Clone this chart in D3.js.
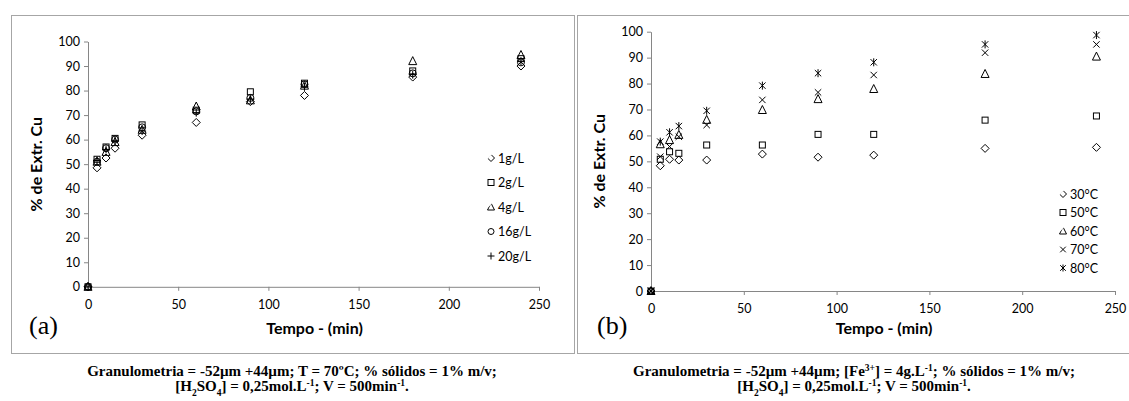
<!DOCTYPE html>
<html>
<head>
<meta charset="utf-8">
<script src="https://cdn.jsdelivr.net/npm/d3@7"></script>
<style>
  body { margin: 0; background: #fff; }
  svg { display: block; }
  .tick text { font-family: Lato, "Open Sans", sans-serif; font-size: 12.5px; fill: #000; }
</style>
</head>
<body>
<svg id="chart" width="1129" height="401"></svg>
<script>
const times = [0, 5, 10, 15, 30, 60, 90, 120, 180, 240];
const xTicks = [0, 50, 100, 150, 200, 250];
const yTicks = [0, 10, 20, 30, 40, 50, 60, 70, 80, 90, 100];

// (a) concentration series
const seriesA = ["1g/L", "2g/L", "4g/L", "16g/L", "20g/L"];
const valuesA1 = [0, 48.5, 52.5, 56.5, 61.8, 67, 75.5, 78, 85.5, 90];
const valuesA2 = [0, 52, 57, 60.5, 66, 72, 79.5, 83, 88, 93];
const valuesA4 = [0, 51, 55, 59, 64, 73.5, 76, 82, 92, 94.5];
const valuesA16 = [0, 51, 56.5, 60, 65, 71.5, 77, 82.5, 87, 91.5];
const valuesA20 = [0, 51.5, 56, 59.5, 63.5, 71, 76.5, 81.5, 86.5, 92];

// (b) temperature series
const seriesB = ["30°C", "50°C", "60°C", "70°C", "80°C"];
const valuesB30 = [0, 48.3, 50.8, 50.5, 50.5, 52.8, 51.6, 52.4, 55, 55.4];
const valuesB50 = [0, 50.8, 53.7, 53.1, 56.3, 56.3, 60.4, 60.4, 65.9, 67.5];
const valuesB60 = [0, 56.6, 58.2, 60.2, 66, 69.8, 74, 77.9, 83.7, 90.4];
const valuesB70 = [0, 51.8, 55.7, 59.5, 64, 73.7, 76.6, 83.3, 91.9, 95.1];
const valuesB80 = [0, 57.6, 61.2, 63.6, 69.5, 79.2, 84, 88.2, 95.1, 98.7];

const svg = d3.select("#chart");

// clip used by legend symbols: Excel cuts off the upper-left edge of some of them
svg.append("defs").append("clipPath").attr("id", "legend-clip")
  .attr("clipPathUnits", "userSpaceOnUse")
  .append("path").attr("d", "M-12.5,10L10,-12.5L10,10Z");

// marker drawing, Excel-like open symbols
function marker(g, type, x, y, s, clip) {
  const o = g.append("g").attr("transform", `translate(${x},${y})`);
  const inner = clip ? o.append("g").attr("clip-path", "url(#legend-clip)") : o;
  const st = sel => sel.attr("fill", "none").attr("stroke", "#000").attr("stroke-width", 1);
  if (type === "diamond") {
    st(inner.append("path").attr("d", `M0,${-s}L${s},0L0,${s}L${-s},0Z`));
  } else if (type === "square") {
    st(o.append("rect").attr("x", -s + 0.5).attr("y", -s + 0.5).attr("width", 2 * s - 1).attr("height", 2 * s - 1));
  } else if (type === "triangle") {
    st(inner.append("path").attr("d", `M0,${-s - 0.5}L${s},${s - 0.5}L${-s},${s - 0.5}Z`));
  } else if (type === "circle") {
    st(o.append("circle").attr("r", s - 0.5));
  } else if (type === "plus") {
    st(o.append("path").attr("d", `M${-s},0H${s}M0,${-s}V${s}`));
  } else if (type === "x") {
    const k = s * 0.8;
    st(o.append("path").attr("d", `M${-k},${-k}L${k},${k}M${-k},${k}L${k},${-k}`));
  } else if (type === "star") {
    const k = s * 0.8;
    st(o.append("path").attr("d", `M${-k},${-k}L${k},${k}M${-k},${k}L${k},${-k}M0,${-s}V${s}`));
  }
}

function panel(opts) {
  const { x0, x1, yTop, yBottom, data, names, types, legendX, legendY, legendStep, label, labelX } = opts;
  const x = d3.scaleLinear().domain([0, 250]).range([x0, x1]);
  const y = d3.scaleLinear().domain([0, 100]).range([yBottom, yTop]);

  const gx = svg.append("g").attr("transform", `translate(0,${yBottom})`)
    .call(d3.axisBottom(x).tickValues(xTicks).tickSize(4).tickSizeOuter(0));
  const gy = svg.append("g").attr("transform", `translate(${x0},0)`)
    .call(d3.axisLeft(y).tickValues(yTicks).tickSize(4).tickSizeOuter(0));
  [gx, gy].forEach(g => {
    g.select(".domain").attr("stroke", "#868686");
    g.selectAll(".tick line").attr("stroke", "#868686");
  });
  gx.selectAll(".tick text").attr("dy", "1.2em");
  gy.selectAll(".tick text").attr("x", -8);

  const pts = svg.append("g");
  data.forEach((vals, i) => {
    vals.forEach((v, j) => marker(pts, types[i], x(times[j]), y(v), types[i] === "square" ? 3.5 : 4));
  });

  // axis titles
  svg.append("text").attr("x", (x0 + x1) / 2 + 1).attr("y", 334)
    .attr("text-anchor", "middle").attr("font-family", "Lato, sans-serif")
    .attr("font-weight", "bold").attr("font-size", 16).text("Tempo - (min)");
  svg.append("text")
    .attr("transform", `translate(${x0 - 46},${(yTop + yBottom) / 2}) rotate(-90)`)
    .attr("text-anchor", "middle").attr("font-family", "Lato, sans-serif")
    .attr("font-weight", "bold").attr("font-size", 16).text("% de Extr. Cu");

  // legend
  const lg = svg.append("g");
  names.forEach((n, i) => {
    const ly = legendY + i * legendStep;
    marker(lg, types[i], legendX, ly, 3.5, types[i] === "diamond" || types[i] === "triangle");
    lg.append("text").attr("x", legendX + 7).attr("y", ly + 4.5)
      .attr("font-family", "Lato, sans-serif").attr("font-size", 12.5).text(n);
  });

  svg.append("text").attr("x", labelX).attr("y", 334)
    .attr("font-family", "'Liberation Serif', 'Times New Roman', serif").attr("font-size", 26).text(label);
}

// frames
svg.append("rect").attr("x", 11.5).attr("y", 15.5).attr("width", 563).attr("height", 338)
  .attr("fill", "none").attr("stroke", "#a6a6a6");
svg.append("rect").attr("x", 577.5).attr("y", 15.5).attr("width", 560).attr("height", 338)
  .attr("fill", "none").attr("stroke", "#a6a6a6");

panel({
  x0: 88, x1: 539, yTop: 41.5, yBottom: 286.8,
  data: [valuesA1, valuesA2, valuesA4, valuesA16, valuesA20], names: seriesA,
  types: ["diamond", "square", "triangle", "circle", "plus"],
  legendX: 491, legendY: 158, legendStep: 24.5, label: "(a)", labelX: 29
});
panel({
  x0: 651, x1: 1115, yTop: 31.7, yBottom: 291,
  data: [valuesB30, valuesB50, valuesB60, valuesB70, valuesB80], names: seriesB,
  types: ["diamond", "square", "triangle", "x", "star"],
  legendX: 1063, legendY: 194, legendStep: 18.5, label: "(b)", labelX: 597
});

// captions with sub/superscripts
function caption(cx, lines) {
  lines.forEach((parts, i) => {
    const t = svg.append("text").attr("x", cx).attr("y", 376 + i * 15)
      .attr("text-anchor", "middle").attr("font-family", "'Liberation Serif', 'Times New Roman', serif")
      .attr("font-weight", "bold").attr("font-size", 15);
    parts.forEach(p => {
      const s = t.append("tspan").text(p[0]);
      if (p[1] === "sup") s.attr("baseline-shift", "super").attr("font-size", 9.5);
      if (p[1] === "sub") s.attr("baseline-shift", "sub").attr("font-size", 9.5);
    });
  });
}
const line2 = [["[H"], ["2", "sub"], ["SO"], ["4", "sub"], ["] = 0,25mol.L"], ["-1", "sup"], ["; V = 500min"], ["-1", "sup"], ["."]];
caption(292, [[["Granulometria = -52µm +44µm; T = 70ºC; % sólidos = 1% m/v;"]], line2]);
caption(854, [[["Granulometria = -52µm +44µm; [Fe"], ["3+", "sup"], ["] = 4g.L"], ["-1", "sup"], ["; % sólidos = 1% m/v;"]], line2]);
</script>
</body>
</html>
